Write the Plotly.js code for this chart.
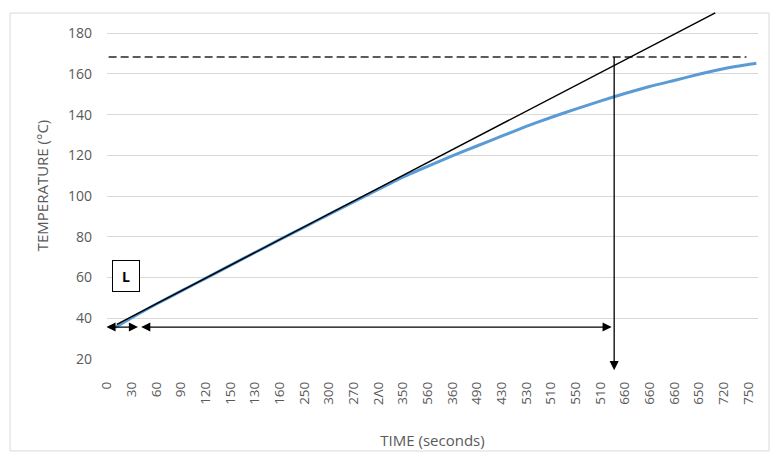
<!DOCTYPE html>
<html><head><meta charset="utf-8">
<script src="https://cdn.plot.ly/plotly-3.0.1.min.js"></script>
<style>html,body{margin:0;padding:0;background:#fff}#chart{width:771px;height:455px}</style>
</head><body><div id="chart"></div>
<script>
// Tick positions (seconds) and the labels printed under them
const tickValues = [0,30,60,90,120,150,180,210,240,270,300,330,360,390,420,450,480,510,540,570,600,630,660,690,720,750,780];
const tickLabels = ['0','30','60','90','120','150','130','160','250','300','270','2Λ0','350','560','360','490','430','530','510','550','510','660','660','660','650','720','750'];
const tempTicks = [20,40,60,80,100,120,140,160,180];

// Measured temperature curve (blue)
const measuredTime = [10,30,60,90,120,150,180,210,240,270,300,330,360,390,420,450,480,510,540,570,600,630,660,690,720,750,780,790];
const measuredTemp = [35.5,40.3,47.0,53.3,59.6,66.0,72.3,78.6,84.8,91.0,97.2,103.3,109.3,114.6,119.7,124.6,129.4,134.2,138.6,142.7,146.6,150.4,153.8,156.8,159.8,162.5,164.6,165.2];

// Tangent line (black)
const tangentTime = [12, 740];
const tangentTemp = [37.0, 190.0];

// Target temperature (dashed)
const targetTime = [2, 778];
const targetTemp = [168.3, 168.3];

// Markers of the time intervals
const ignitionTime = 617;
const arrowTemp = 35.7;
const shortArrowEnd = 37.7;
const longArrowEnd = 614;

const grey = '#595959';
const font = 'Open Sans, Liberation Sans, sans-serif';

const traces = [
  {x: targetTime, y: targetTemp, mode: 'lines', line: {color: '#262626', width: 1.3, dash: '8px,4px'}, hoverinfo: 'skip'},
  {x: measuredTime, y: measuredTemp, mode: 'lines', line: {color: '#5b9bd5', width: 3, shape: 'spline', smoothing: 0.6}, hoverinfo: 'skip'},
  {x: tangentTime, y: tangentTemp, mode: 'lines', line: {color: '#000000', width: 1.5}, hoverinfo: 'skip'}
];

const arrowBase = {text: '', showarrow: true, arrowhead: 2, arrowsize: 1.4, arrowwidth: 1.3, arrowcolor: '#000', standoff: 0, startstandoff: 0, startarrowhead: 2, startarrowsize: 1.4, axref: 'pixel', ayref: 'pixel'};

const layout = {
  width: 771, height: 455,
  margin: {l: 107, r: 13, t: 12, b: 96},
  paper_bgcolor: '#fff', plot_bgcolor: '#fff',
  showlegend: false,
  xaxis: {
    range: [0, 792], tickvals: tickValues, ticktext: tickLabels, tickangle: -90,
    showgrid: false, zeroline: false, showline: false, ticks: '',
    ticklabelstandoff: 19,
    tickfont: {family: font, size: 13.5, color: grey},
    title: {text: 'TIME (seconds)', font: {family: font, size: 15, color: grey}, standoff: 31}
  },
  yaxis: {
    range: [20, 190.4], tickvals: tempTicks,
    showgrid: true, gridcolor: '#d9d9d9', gridwidth: 1, zeroline: false, showline: false, ticks: '',
    ticklabelstandoff: 14,
    tickfont: {family: font, size: 14, color: grey},
    title: {text: 'TEMPERATURE (°C)', font: {family: font, size: 15, color: grey}, standoff: 15}
  },
  shapes: [
    {type: 'rect', xref: 'paper', yref: 'paper', x0: -0.149, x1: 1.0169, y0: -0.265, y1: 0.997, line: {color: '#d9d9d9', width: 1}, layer: 'below'}
  ],
  annotations: [
    Object.assign({}, arrowBase, {xref: 'x', yref: 'y', x: shortArrowEnd, y: arrowTemp, ax: -33, ay: 0, arrowside: 'end+start'}),
    Object.assign({}, arrowBase, {xref: 'x', yref: 'y', x: longArrowEnd, y: arrowTemp, ax: -472, ay: 0, arrowside: 'end+start'}),
    Object.assign({}, arrowBase, {xref: 'x', yref: 'y', x: ignitionTime, y: targetTemp[0], ax: 0, ay: 314.7, arrowside: 'start'}),
    {xref: 'x', yref: 'y', x: 23.7, y: 60.8, text: '<b>L</b>', showarrow: false,
     font: {family: font, size: 14, color: '#000'}, bordercolor: '#000', borderwidth: 1, borderpad: 4,
     width: 18, height: 22, bgcolor: '#fff'}
  ]
};

Plotly.newPlot('chart', traces, layout, {displayModeBar: false, staticPlot: true});
</script>
</body></html>
